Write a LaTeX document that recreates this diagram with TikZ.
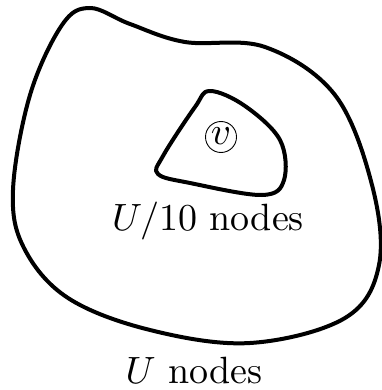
\documentclass[tikz,border=0pt]{standalone}
\begin{document}
\begin{tikzpicture}[x=1pt,y=-1pt,
  blob/.style={line width=4pt, line join=round},
  lbl/.style={inner sep=0pt, anchor=base, scale=3.8}]
\useasboundingbox (0,0) rectangle (381,390);
\draw[blob] plot[smooth cycle, tension=0.6] coordinates {
  (90,8) (130,24) (185,42) (265,47) (335,95) (372,185) (379,265)
  (345,318) (250,343) (150,330) (68,298) (24,248) (13,190) (30,95) (62,25)};
\draw[blob] plot[smooth cycle, tension=0.6] coordinates {
  (210,91) (245,106) (280,140) (284,180) (262,195) (190,183) (158,174)
  (163,156) (195,107)};
\node[circle, draw, line width=0.9pt, minimum size=31pt, inner sep=0pt] (v) at (221,137) {};
\node[scale=3.9] at (221,136) {$v$};
\node[lbl] (inner) at (208,230) {$U/10$ nodes};
\node[lbl] (outer) at (194,383) {$U$ nodes};
\end{tikzpicture}
\end{document}
